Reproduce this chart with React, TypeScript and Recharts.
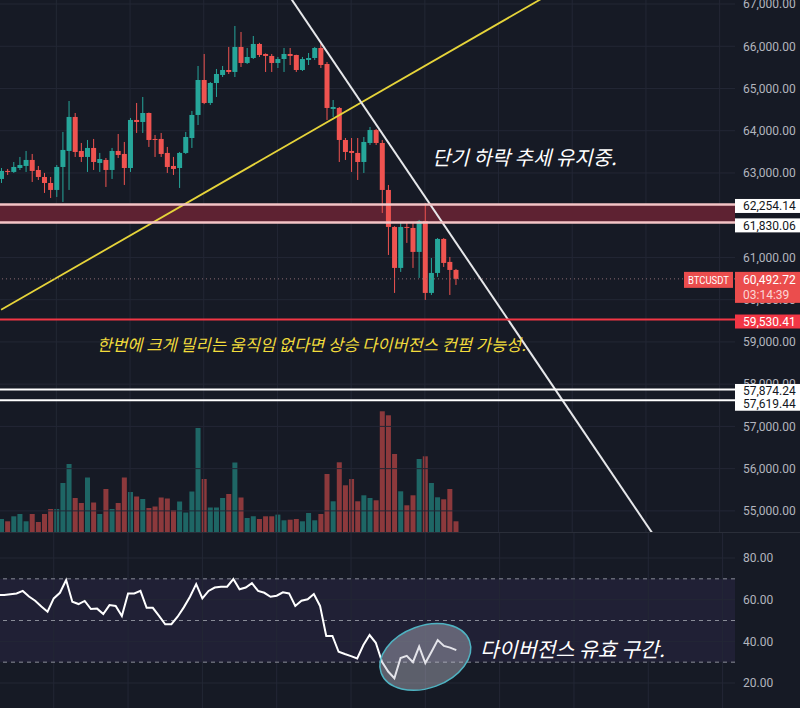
import React from "react";
import {
  ComposedChart,
  Bar,
  Line,
  XAxis,
  YAxis,
  ReferenceLine,
  ReferenceArea,
  ReferenceDot,
  Cell,
} from "recharts";

// BTCUSDT candles (left to right)
const opens = [
  62858, 63048, 63024, 63118, 63166, 63308, 63071, 62905, 62763, 62598,
  63142, 63521, 64326, 63521, 63379, 63592, 63237, 63308, 63071, 63521,
  63450, 63118, 64255, 64207, 64420, 63805, 63805, 63474, 63166, 63118,
  63474, 63828, 64373, 65201, 64657, 65130, 65320, 65438, 65391, 65983,
  65604, 65722, 66054, 65817, 65770, 65604, 65698, 65817, 65793, 65438,
  65675, 65722, 65959, 65580, 64515, 64539, 63781, 63521, 63474, 63260,
  63710, 64018, 63710, 62598, 61722, 60752, 61722, 61698, 61131, 61864,
  60160, 60633, 61438, 60894, 60704,
];
const highs = [
  63118, 63095, 63260, 63379, 63521, 63450, 63166, 63000, 62905, 63189,
  63971, 64704, 64420, 63710, 63781, 63805, 63474, 63355, 63592, 63923,
  63734, 64302, 64657, 64799, 64430, 63900, 63947, 63616, 63379, 63497,
  63971, 64468, 65533, 65817, 65154, 65462, 65533, 65983, 66480, 66338,
  65959, 66243, 66080, 65830, 65817, 65746, 65959, 65959, 65800, 65746,
  65840, 65983, 66080, 65627, 64728, 64562, 63828, 63828, 63828, 63852,
  64089, 64040, 63781, 62716, 61740, 61817, 61840, 61840, 61888, 62290,
  60988, 61460, 61460, 61012, 60728,
];
const lows = [
  62763, 62953, 63000, 63071, 63024, 62787, 62834, 62527, 62408, 62432,
  62314, 62598, 63379, 63260, 63024, 63071, 63024, 62669, 62858, 63355,
  62716, 63024, 63947, 63947, 63616, 63379, 63379, 63000, 62953, 62645,
  63450, 63592, 64136, 64630, 64610, 64799, 65272, 65343, 65272, 65509,
  65580, 65698, 65746, 65391, 65391, 65485, 65391, 65556, 65391, 65414,
  65556, 65675, 65485, 64255, 64326, 63260, 63308, 63024, 62834, 63000,
  63663, 63663, 62053, 61059, 60160, 60657, 61344, 60752, 60515, 59994,
  60112, 60539, 60775, 60112, 60349,
];
const closes = [
  63048, 63024, 63142, 63189, 63308, 63048, 62905, 62763, 62598, 63142,
  63545, 64326, 63497, 63379, 63592, 63260, 63331, 63071, 63521, 63426,
  63118, 64255, 64207, 64420, 63781, 63781, 63450, 63142, 63095, 63474,
  63852, 64373, 65201, 64657, 65130, 65343, 65438, 65391, 65983, 65604,
  65746, 66054, 65793, 65770, 65604, 65698, 65817, 65770, 65438, 65698,
  65722, 65959, 65556, 64539, 64562, 63781, 63497, 63474, 63260, 63734,
  64018, 63710, 62598, 61722, 60752, 61722, 61698, 61131, 61864, 60160,
  60633, 61438, 60870, 60704, 60492.72,
];
const volumes = [
  260, 214, 314, 360, 214, 360, 200, 360, 460, 460,
  980, 1360, 680, 580, 1090, 590, 360, 860, 460, 580,
  1090, 800, 710, 660, 480, 510, 690, 670, 440, 610,
  390, 810, 2080, 1060, 490, 490, 680, 760, 1390, 690,
  280, 314, 260, 314, 314, 348, 234, 246, 260, 214,
  380, 234, 360, 1160, 614, 1394, 934, 1060, 614, 734,
  680, 634, 2414, 2334, 1560, 814, 534, 734, 1460, 1514,
  980, 694, 654, 860, 214,
];
const rsiValues = [
  62.2, 62.2, 62.6, 63.0, 64.2, 61.5, 59.5, 56.7, 54.2, 60.6,
  63.3, 69.4, 59.0, 57.9, 59.4, 55.5, 55.7, 53.1, 57.4, 57.0,
  52.2, 63.0, 63.0, 64.2, 56.1, 56.1, 52.2, 48.2, 48.2, 51.8,
  56.3, 61.4, 67.5, 60.6, 64.2, 65.8, 66.2, 66.2, 69.9, 65.0,
  65.8, 67.9, 64.2, 63.3, 61.4, 61.9, 63.5, 63.0, 57.0, 59.5,
  60.2, 62.7, 57.0, 42.6, 42.6, 35.0, 33.9, 32.9, 31.8, 38.2,
  43.0, 39.3, 30.2, 25.5, 22.3, 32.0, 33.0, 30.0, 37.5, 29.6,
  35.0, 40.6, 37.8, 37.0, 35.8,
];

// grid levels, and the axis labels (62,000 sits under the zone tags)
const priceTicks = [
  55000, 56000, 57000, 58000, 59000, 60000, 61000, 62000, 63000, 64000,
  65000, 66000, 67000,
];
const priceLabels = [
  55000, 56000, 57000, 58000, 59000, 60000, 61000, 63000, 64000, 65000,
  66000, 67000,
];
const rsiTicks = [20, 40, 60, 80];
const gridSlots = [9, 21, 33, 45, 57, 69, 81, 93, 105, 117];
const SLOTS = 120;

// drawn levels and trend lines
const zoneTop = 62254.14;
const zoneBottom = 61830.06;
const supportLevel = 59530.41;
const lowerLevels = [57874.24, 57619.44];
const lastPrice = 60492.72;
const yellowTrend = [
  { x: 0, y: 59760 },
  { x: 88, y: 67125 },
];
const whiteTrend = [
  { x: 47, y: 67175 },
  { x: 106, y: 54480 },
];
const rsiMark = { x: 69, y: 32.5 };

const BG = "#161a25";
const GRID = "#232735";
const AXIS_TEXT = "#b2b5be";
const UP = "#26a69a";
const DOWN = "#ef5350";
const AXIS_FONT = "Roboto, 'Liberation Sans', sans-serif";
const KR_FONT = "'Noto Sans CJK KR', 'Noto Sans', sans-serif";
const PRICE_DOMAIN = [54500, 67095];

const rows = Array.from({ length: SLOTS }, (_, i) =>
  i < opens.length
    ? {
        i,
        open: opens[i],
        high: highs[i],
        low: lows[i],
        close: closes[i],
        range: [lows[i], highs[i]],
        vol: volumes[i],
        rsi: rsiValues[i],
      }
    : { i }
);

const fmt = (v: number) =>
  v.toLocaleString("en-US", { minimumFractionDigits: 2, maximumFractionDigits: 2 });

const Candle = (props: any) => {
  const { x, y, width, height, payload } = props;
  if (!payload || payload.open == null || !height) return null;
  const { open, close, high, low } = payload;
  const k = height / (high - low);
  const yo = y + (high - open) * k;
  const yc = y + (high - close) * k;
  const color = close >= open ? UP : DOWN;
  const cx = x + width / 2;
  return (
    <g>
      <line x1={cx} x2={cx} y1={y} y2={y + height} stroke={color} strokeWidth={1} />
      <rect
        x={x}
        y={Math.min(yo, yc)}
        width={width}
        height={Math.max(1, Math.abs(yo - yc))}
        fill={color}
      />
    </g>
  );
};

const PriceTag = ({ viewBox, text, bg, fg, dy = 0 }: any) => {
  if (!viewBox) return null;
  const right = viewBox.x + viewBox.width;
  const cy = viewBox.y + dy;
  return (
    <g>
      <rect x={right} y={cy - 7} width={65} height={14} fill={bg} />
      <text x={right + 8} y={cy} dy={4.5} fill={fg} fontSize={12} fontFamily={AXIS_FONT}>
        {text}
      </text>
    </g>
  );
};

const LastPriceTag = ({ viewBox }: any) => {
  if (!viewBox) return null;
  const right = viewBox.x + viewBox.width;
  const cy = viewBox.y;
  return (
    <g fontFamily={AXIS_FONT} fontSize={12}>
      <rect x={right - 51} y={cy - 7} width={49} height={16} fill="#eb4d4d" />
      <text
        x={right - 47}
        y={cy + 5}
        fill="#fff"
        fontSize={11}
        textLength={41}
        lengthAdjust="spacingAndGlyphs"
      >
        BTCUSDT
      </text>
      <rect x={right} y={cy - 7} width={65} height={31} fill="#eb4d4d" />
      <text x={right + 8} y={cy + 5} fill="#fff">
        {fmt(lastPrice)}
      </text>
      <text x={right + 8} y={cy + 20} fill="#fbd5d5">
        03:14:39
      </text>
    </g>
  );
};

const Ellipse = ({ cx, cy }: any) => (
  <ellipse
    cx={cx}
    cy={cy}
    rx={47}
    ry={31}
    transform={`rotate(-20 ${cx} ${cy})`}
    fill="rgba(190,190,205,0.42)"
    stroke="#4fb3c2"
    strokeWidth={1.5}
  />
);

const noteStyle: React.CSSProperties = {
  position: "absolute",
  fontFamily: KR_FONT,
  fontStyle: "italic",
  whiteSpace: "nowrap",
  lineHeight: 1,
};

const layer: React.CSSProperties = { position: "absolute", left: -2, top: 0 };

const App = () => {
  return (
    <div
      style={{
        position: "absolute",
        left: 0,
        top: 0,
        width: 800,
        height: 708,
        background: BG,
        overflow: "hidden",
      }}
    >
      {/* grid + volume */}
      <div style={layer}>
        <ComposedChart
          width={802}
          height={532}
          data={rows}
          margin={{ top: 0, right: 65, bottom: 0, left: 0 }}
        >
          <XAxis dataKey="i" hide />
          <YAxis yAxisId="p" hide domain={PRICE_DOMAIN} allowDataOverflow />
          <YAxis yAxisId="v" hide domain={[0, 10640]} allowDataOverflow />
          {priceTicks.map((v) => (
            <ReferenceLine key={v} yAxisId="p" y={v} stroke={GRID} />
          ))}
          {gridSlots.map((s) => (
            <ReferenceLine key={s} yAxisId="p" x={s} stroke={GRID} />
          ))}
          <Bar dataKey="vol" yAxisId="v" barSize={5} isAnimationActive={false}>
            {rows.map((r: any) => (
              <Cell
                key={r.i}
                fill={r.close >= r.open ? "rgba(38,166,154,0.55)" : "rgba(239,83,80,0.55)"}
              />
            ))}
          </Bar>
        </ComposedChart>
      </div>

      {/* zone, candles, trend lines, price axis */}
      <div style={layer}>
        <ComposedChart
          width={802}
          height={532}
          data={rows}
          margin={{ top: 0, right: 0, bottom: 0, left: 0 }}
        >
          <XAxis dataKey="i" hide />
          <YAxis
            yAxisId="p"
            orientation="right"
            width={65}
            domain={PRICE_DOMAIN}
            allowDataOverflow
            ticks={priceLabels}
            interval={0}
            tickLine={false}
            axisLine={false}
            tickSize={0}
            tickMargin={8}
            tick={{ fill: AXIS_TEXT, fontSize: 12, fontFamily: AXIS_FONT }}
            tickFormatter={fmt}
          />
          <ReferenceArea
            yAxisId="p"
            y1={zoneBottom}
            y2={zoneTop}
            fill="#5e2232"
            fillOpacity={1}
          />
          <Bar
            dataKey="range"
            yAxisId="p"
            barSize={5}
            shape={Candle}
            isAnimationActive={false}
          />
          <ReferenceLine
            yAxisId="p"
            segment={yellowTrend}
            stroke="#e6d43a"
            strokeWidth={1.8}
            ifOverflow="hidden"
          />
          <ReferenceLine
            yAxisId="p"
            segment={whiteTrend}
            stroke="#e6e7ea"
            strokeWidth={2}
            ifOverflow="hidden"
          />
        </ComposedChart>
      </div>

      {/* horizontal levels with their axis tags, above the axis labels */}
      <div style={layer}>
        <ComposedChart
          width={802}
          height={532}
          data={rows}
          margin={{ top: 0, right: 65, bottom: 0, left: 0 }}
        >
          <XAxis dataKey="i" hide />
          <YAxis yAxisId="p" hide domain={PRICE_DOMAIN} allowDataOverflow />
          <ReferenceLine
            yAxisId="p"
            y={zoneTop}
            stroke="#f4c4c6"
            strokeWidth={2.5}
            label={<PriceTag text={fmt(zoneTop)} bg="#ffffff" fg="#131722" dy={1.5} />}
          />
          <ReferenceLine
            yAxisId="p"
            y={zoneBottom}
            stroke="#f4c4c6"
            strokeWidth={2.5}
            label={<PriceTag text={fmt(zoneBottom)} bg="#ffffff" fg="#131722" dy={3} />}
          />
          <ReferenceLine
            yAxisId="p"
            y={lastPrice}
            stroke="#8c6b73"
            strokeDasharray="1 3"
            label={<LastPriceTag />}
          />
          <ReferenceLine
            yAxisId="p"
            y={supportLevel}
            stroke="#f23645"
            strokeWidth={1.8}
            label={<PriceTag text={fmt(supportLevel)} bg="#f23645" fg="#ffffff" dy={2} />}
          />
          {lowerLevels.map((v, idx) => (
            <ReferenceLine
              key={v}
              yAxisId="p"
              y={v}
              stroke="#ffffff"
              strokeWidth={2}
              label={
                <PriceTag text={fmt(v)} bg="#ffffff" fg="#131722" dy={idx === 0 ? 1.5 : 3.5} />
              }
            />
          ))}
        </ComposedChart>
      </div>

      <div
        style={{
          position: "absolute",
          left: 0,
          top: 532,
          width: 800,
          height: 1,
          background: "#2a2e39",
        }}
      />

      {/* RSI */}
      <div style={{ ...layer, top: 533 }}>
        <ComposedChart
          width={802}
          height={175}
          data={rows}
          margin={{ top: 0, right: 0, bottom: 0, left: 0 }}
        >
          <XAxis dataKey="i" hide />
          <YAxis
            orientation="right"
            width={65}
            domain={[8, 92]}
            allowDataOverflow
            ticks={rsiTicks}
            interval={0}
            tickLine={false}
            axisLine={false}
            tickSize={0}
            tickMargin={8}
            tick={{ fill: AXIS_TEXT, fontSize: 12, fontFamily: AXIS_FONT }}
            tickFormatter={(v: number) => v.toFixed(2)}
          />
          {rsiTicks.map((v) => (
            <ReferenceLine key={v} y={v} stroke={GRID} />
          ))}
          {gridSlots.map((s) => (
            <ReferenceLine key={s} x={s} stroke={GRID} />
          ))}
          <ReferenceArea y1={30} y2={70} fill="#7e57c2" fillOpacity={0.1} />
          {[70, 50, 30].map((v) => (
            <ReferenceLine key={v} y={v} stroke="#8a8d98" strokeDasharray="4 4" />
          ))}
          <ReferenceDot x={rsiMark.x} y={rsiMark.y} shape={Ellipse} />
          <Line
            dataKey="rsi"
            stroke="#ffffff"
            strokeWidth={2}
            dot={false}
            isAnimationActive={false}
          />
        </ComposedChart>
      </div>

      <div style={{ ...noteStyle, left: 432, top: 147, fontSize: 20, color: "#ffffff" }}>
        단기 하락 추세 유지중.
      </div>
      <div style={{ ...noteStyle, left: 97, top: 336, fontSize: 16.5, color: "#f2dc3c" }}>
        한번에 크게 밀리는 움직임 없다면 상승 다이버전스 컨펌 가능성.
      </div>
      <div style={{ ...noteStyle, left: 480, top: 638, fontSize: 20.5, color: "#ffffff" }}>
        다이버전스 유효 구간.
      </div>
    </div>
  );
};

export default App;
